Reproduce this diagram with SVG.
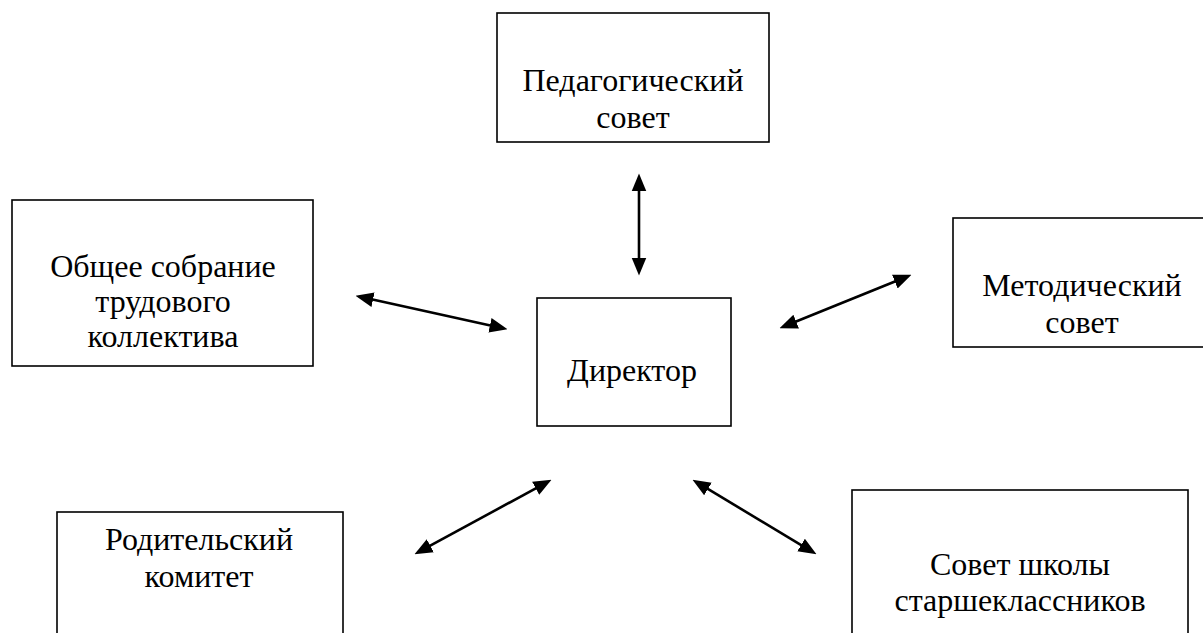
<svg xmlns="http://www.w3.org/2000/svg" width="1203" height="633" viewBox="0 0 1203 633">
<style>
.box{fill:#fff;stroke:#000;stroke-width:1.6}
.t{font-family:"Liberation Serif","Times New Roman",serif;font-size:32px;fill:#000;text-anchor:middle}
.c{stroke:#000;stroke-width:2.6;fill:none;marker-start:url(#ah);marker-end:url(#ah)}
</style>
<defs>
<marker id="ah" markerUnits="userSpaceOnUse" markerWidth="18" markerHeight="16" viewBox="0 0 17 14" refX="7" refY="7" orient="auto-start-reverse">
<path d="M0,0 L17,7 L0,14 z" fill="#000"/>
</marker>
</defs>
<rect width="1203" height="633" fill="#fff"/>
<g id="ped">
<rect class="box" x="497" y="13" width="272" height="129"/>
<text class="t" x="633" y="91">Педагогический</text>
<text class="t" x="633" y="128">совет</text>
</g>
<g id="obsh">
<rect class="box" x="12" y="200" width="301" height="166"/>
<text class="t" x="163" y="277">Общее собрание</text>
<text class="t" x="163" y="312">трудового</text>
<text class="t" x="163" y="347">коллектива</text>
</g>
<g id="dir">
<rect class="box" x="537" y="298" width="194" height="128"/>
<text class="t" x="632" y="381">Директор</text>
</g>
<g id="met">
<rect class="box" x="953" y="218" width="260" height="129"/>
<text class="t" x="1082" y="296">Методический</text>
<text class="t" x="1082" y="333">совет</text>
</g>
<g id="rod">
<rect class="box" x="57" y="512" width="286" height="140"/>
<text class="t" x="199" y="550">Родительский</text>
<text class="t" x="199" y="587">комитет</text>
</g>
<g id="sov">
<rect class="box" x="852" y="490" width="336" height="160"/>
<text class="t" x="1020" y="575">Совет школы</text>
<text class="t" x="1020" y="611">старшеклассников</text>
</g>
<g id="connectors">
<path class="c" d="M639,184 L639,265"/>
<path class="c" d="M365.8,298.1 L497.2,326.9"/>
<path class="c" d="M789.3,324.3 L901.7,278.8"/>
<path class="c" d="M423.8,549.2 L542.2,484.8"/>
<path class="c" d="M701.6,485.2 L807.4,548.8"/>
</g>
</svg>
